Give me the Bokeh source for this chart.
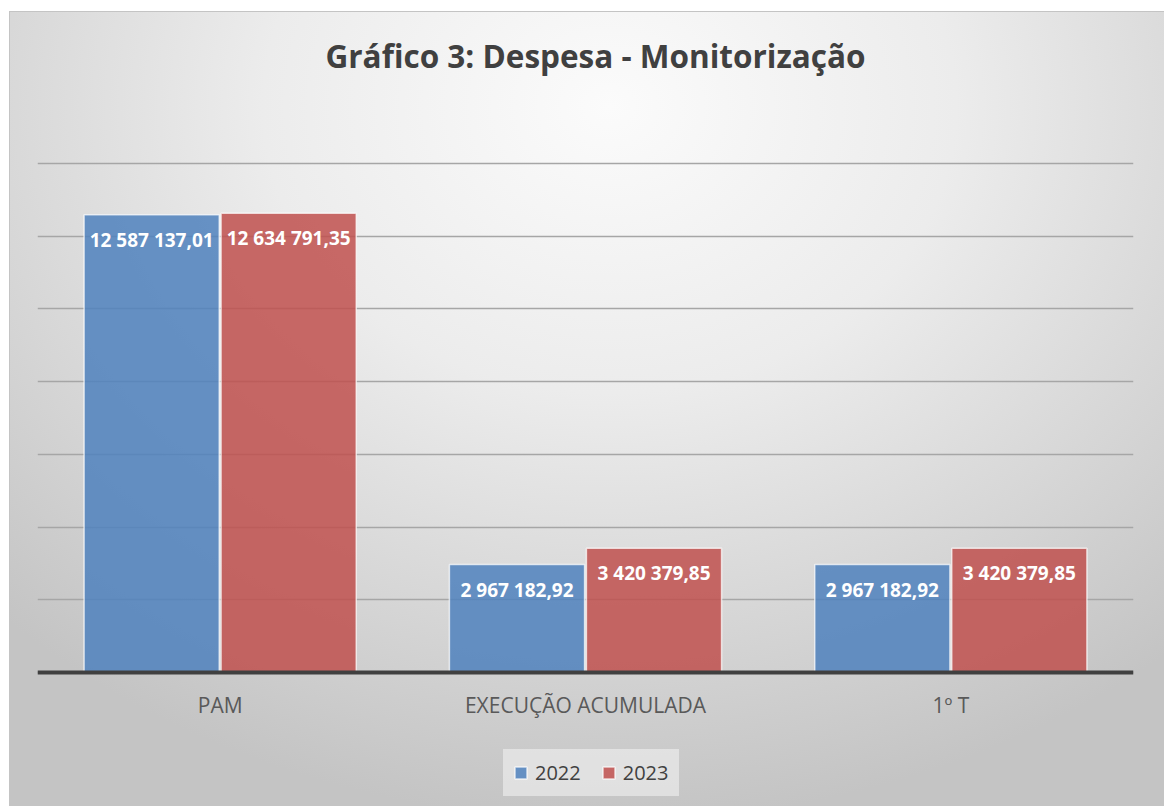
from bokeh.plotting import figure
from bokeh.models import (ColumnDataSource, FactorRange, Range1d, FixedTicker,
                          Legend, LegendItem, Title, GlobalInlineStyleSheet)
from bokeh.transform import dodge
from bokeh.core.properties import value
from bokeh.embed import file_html
from bokeh.resources import INLINE

# ---- data ----
categories = ["PAM", "EXECUÇÃO ACUMULADA", "1º T"]
series_names = ["2022", "2023"]
values_2022 = [12587137.01, 2967182.92, 2967182.92]
values_2023 = [12634791.35, 3420379.85, 3420379.85]
y_ticks = [0, 2000000, 4000000, 6000000, 8000000, 10000000, 12000000, 14000000]
title_text = "Gráfico 3: Despesa - Monitorização"


def pt_fmt(v):
    return f"{v:,.2f}".replace(",", " ").replace(".", ",")


src = ColumnDataSource(dict(
    cat=categories,
    v2022=values_2022,
    v2023=values_2023,
    l2022=[pt_fmt(v) for v in values_2022],
    l2023=[pt_fmt(v) for v in values_2023],
))

FONT = "Open Sans"

# layout geometry (pixels)
W_PX, H_PX = 1164, 848             # the axis panel lies just below the window
TOP_BORDER, BOTTOM_BORDER = 161, 48
MAX_PX, ZERO_PX = 163, 672         # pixel rows of the top tick and of 0
Y_MAX = y_ticks[-1]
px_per_unit = (ZERO_PX - MAX_PX) / Y_MAX
frame_bottom = H_PX - BOTTOM_BORDER
y_lo = -(frame_bottom - ZERO_PX) / px_per_unit
y_hi = Y_MAX + (MAX_PX - TOP_BORDER) / px_per_unit

p = figure(x_range=FactorRange(*categories), y_range=Range1d(y_lo, y_hi),
           width=W_PX, height=H_PX, output_backend="svg", toolbar_location=None,
           min_border_left=37, min_border_right=31, min_border_top=TOP_BORDER,
           min_border_bottom=BOTTOM_BORDER)

p.stylesheets = [GlobalInlineStyleSheet(css="html, body { overflow: hidden !important; }")]
p.background_fill_alpha = 0
p.border_fill_alpha = 0
p.outline_line_color = None
p.styles = {
    "background-color": "white",
    "background-image": ("linear-gradient(#c4c4c4, #c4c4c4), "
                         "linear-gradient(#c4c4c4, #c4c4c4), "
                         "radial-gradient(ellipse 75% 90% at 52% 12%, #fbfbfb 0%, #ececec 40%, #d8d8d8 70%, #c4c4c4 100%)"),
    "background-size": "100% 1px, 1px 100%, calc(100% - 9px) 795px",
    "background-position": "9px 11px, 9px 11px, 9px 11px",
    "background-repeat": "no-repeat",
}

# spacer between frame and title, then title (outermost)
p.add_layout(Title(text=" ", text_font_size="10px", standoff=72), "above")
main_title = Title(text=title_text, align="left", offset=288, standoff=0,
                   text_font=FONT, text_font_size="31.5px", text_font_style="bold",
                   text_color="#404040")
p.add_layout(main_title, "above")

# bars
W = 0.37
OFF = 0.1875
r1 = p.vbar(x=dodge("cat", -OFF, range=p.x_range), top="v2022", bottom=0, width=W,
            source=src, fill_color="#4f81bd", fill_alpha=0.85, line_color="white",
            line_alpha=0.7, line_width=1.5)
r2 = p.vbar(x=dodge("cat", OFF, range=p.x_range), top="v2023", bottom=0, width=W,
            source=src, fill_color="#c0504d", fill_alpha=0.85, line_color="white",
            line_alpha=0.7, line_width=1.5)

# data labels
for off, ycol, lcol in [(-OFF, "v2022", "l2022"), (OFF, "v2023", "l2023")]:
    p.text(x=dodge("cat", off, range=p.x_range), y=ycol, text=lcol, source=src,
           text_align="center", text_baseline="middle", y_offset=25,
           text_color="white", text_font=value(FONT), text_font_style="bold",
           text_font_size="19px")

# axes & grid
p.yaxis.visible = False
p.ygrid.ticker = FixedTicker(ticks=y_ticks)
p.ygrid.grid_line_color = "#a6a6a6"
p.ygrid.grid_line_width = 1.6
p.xgrid.grid_line_color = None

p.xaxis.fixed_location = 0
p.xaxis.axis_line_color = "#404040"
p.xaxis.axis_line_width = 4
p.xaxis.major_tick_line_color = None
p.xaxis.minor_tick_line_color = None
p.xaxis.major_tick_out = 0
p.xaxis.major_tick_in = 0
p.xaxis.major_label_text_font = FONT
p.xaxis.major_label_text_font_size = "21px"
p.xaxis.major_label_text_color = "#595959"
p.xaxis.major_label_standoff = 18

legend = Legend(items=[LegendItem(label=series_names[0], renderers=[r1]),
                       LegendItem(label=series_names[1], renderers=[r2])],
                orientation="horizontal", location=(466, 4))
legend.label_text_font = FONT
legend.label_text_font_size = "20px"
legend.label_text_color = "#404040"
legend.glyph_width = 15
legend.glyph_height = 15
legend.label_standoff = 7
legend.spacing = 20
legend.padding = 10
legend.margin = 0
legend.background_fill_color = "#ebebeb"
legend.background_fill_alpha = 0.7
legend.border_line_alpha = 0
p.add_layout(legend, "center")

open("out.html", "w").write(file_html(p, INLINE))
